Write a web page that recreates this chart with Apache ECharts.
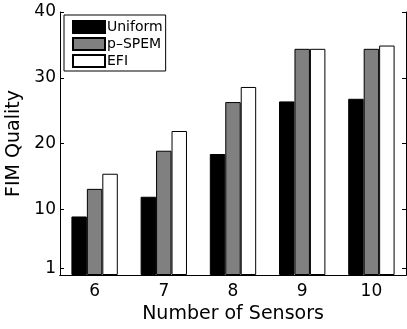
<!DOCTYPE html>
<html>
<head>
<meta charset="utf-8">
<script src="https://cdn.jsdelivr.net/npm/echarts@6/dist/echarts.min.js"></script>
<style>
  html, body { margin: 0; padding: 0; background: #fff; }
  #chart { width: 407px; height: 329px; }
</style>
</head>
<body>
<div id="chart"></div>
<script>
// data
const sensors = ['6', '7', '8', '9', '10'];
const uniform = [8.9, 11.9, 18.4, 26.4, 26.8];
const pSpem = [13.1, 18.9, 26.3, 34.4, 34.4];
const efi = [15.4, 21.9, 28.6, 34.4, 34.9];
const yTicks = [1, 10, 20, 30, 40];

const chart = echarts.init(document.getElementById('chart'));
const font = 'DejaVu Sans';

const barStyle = (color) => ({ color: color, borderColor: '#000', borderWidth: 1 });

const option = {
  animation: false,
  textStyle: { fontFamily: font },
  grid: { left: 60, right: 1, top: 12, bottom: 54, containLabel: false, outerBoundsMode: 'none' },
  legend: {
    orient: 'vertical',
    left: 64,
    top: 15,
    padding: [5, 3, 3, 8],
    icon: 'rect',
    itemWidth: 32,
    itemHeight: 12,
    itemGap: 3,
    backgroundColor: '#fff',
    borderColor: '#000',
    borderWidth: 1,
    borderRadius: 0,
    textStyle: { fontFamily: font, fontSize: 14, color: '#000', padding: [0, 0, 0, -3] },
    data: ['Uniform', 'p\u2013SPEM', 'EFI']
  },
  xAxis: [
    {
      type: 'category',
      data: sensors,
      name: 'Number of Sensors',
      nameLocation: 'middle',
      nameGap: 26,
      nameTextStyle: { fontFamily: font, fontSize: 19, color: '#000' },
      axisLine: { lineStyle: { color: '#000', width: 1 } },
      axisTick: { inside: true, alignWithLabel: true, length: 4, lineStyle: { color: '#000' } },
      axisLabel: { fontFamily: font, fontSize: 17, color: '#000', margin: 8 }
    },
    {
      type: 'category',
      data: sensors,
      position: 'top',
      axisLine: { lineStyle: { color: '#000', width: 1 } },
      axisTick: { inside: true, alignWithLabel: true, length: 4, lineStyle: { color: '#000' } },
      axisLabel: { show: false }
    }
  ],
  yAxis: [
    {
      type: 'value',
      min: 0,
      max: 40,
      name: 'FIM Quality',
      nameLocation: 'middle',
      nameGap: 35,
      nameTextStyle: { fontFamily: font, fontSize: 19, color: '#000' },
      axisLine: { show: true, lineStyle: { color: '#000', width: 1 } },
      axisTick: { show: true, inside: true, length: 4, customValues: yTicks, lineStyle: { color: '#000' } },
      axisLabel: { fontFamily: font, fontSize: 17, color: '#000', margin: 4, customValues: yTicks },
      splitLine: { show: false }
    },
    {
      type: 'value',
      min: 0,
      max: 40,
      position: 'right',
      axisLine: { show: true, lineStyle: { color: '#000', width: 1 } },
      axisTick: { show: true, inside: true, length: 4, customValues: yTicks, lineStyle: { color: '#000' } },
      axisLabel: { show: false },
      splitLine: { show: false }
    }
  ],
  series: [
    { name: 'Uniform', type: 'bar', data: uniform, barGap: '0%', barCategoryGap: '33%', itemStyle: barStyle('#000') },
    { name: 'p\u2013SPEM', type: 'bar', data: pSpem, barGap: '0%', barCategoryGap: '33%', itemStyle: barStyle('#808080') },
    { name: 'EFI', type: 'bar', data: efi, barGap: '0%', barCategoryGap: '33%', itemStyle: barStyle('#fff') }
  ]
};

chart.setOption(option);
</script>
</body>
</html>
